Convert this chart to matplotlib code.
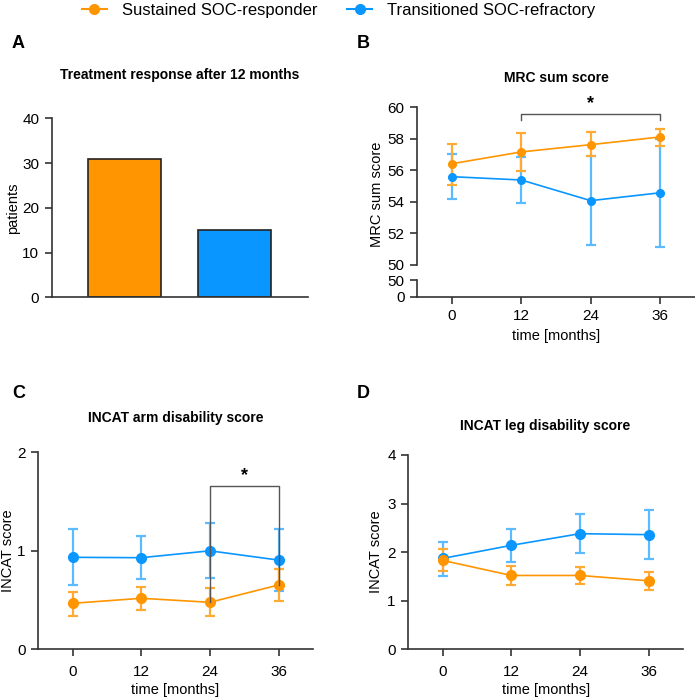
import matplotlib.pyplot as plt
from matplotlib.lines import Line2D

plt.rcParams['font.family'] = ['Liberation Sans', 'DejaVu Sans']

ORANGE = '#FF9500'
BLUE = '#0A96FF'
ORANGE_ERR = '#FFAA33'
BLUE_ERR = '#5CBAFF'
AX_COL = '#333333'

groups = ['Sustained SOC-responder', 'Transitioned SOC-refractory']
months = [0, 12, 24, 36]

# A: patients per group
patients = [31, 15]

# B: MRC sum score (mean, lower err, upper err)
mrc_resp = [56.42, 57.17, 57.63, 58.12]
mrc_resp_lo = [55.10, 55.96, 56.90, 57.56]
mrc_resp_hi = [57.70, 58.39, 58.41, 58.64]
mrc_refr = [55.60, 55.39, 54.08, 54.58]
mrc_refr_lo = [54.20, 53.95, 51.27, 51.16]
mrc_refr_hi = [57.02, 56.83, 56.89, 58.00]

# C: INCAT arm
arm_resp = [0.467, 0.518, 0.477, 0.653]
arm_resp_lo = [0.341, 0.399, 0.339, 0.490]
arm_resp_hi = [0.585, 0.636, 0.620, 0.812]
arm_refr = [0.934, 0.930, 1.000, 0.906]
arm_refr_lo = [0.650, 0.710, 0.720, 0.595]
arm_refr_hi = [1.218, 1.150, 1.280, 1.224]

# D: INCAT leg
leg_resp = [1.83, 1.52, 1.52, 1.41]
leg_resp_lo = [1.61, 1.33, 1.34, 1.23]
leg_resp_hi = [2.06, 1.71, 1.70, 1.59]
leg_refr = [1.87, 2.14, 2.38, 2.36]
leg_refr_lo = [1.51, 1.80, 1.98, 1.86]
leg_refr_hi = [2.21, 2.48, 2.78, 2.87]

fig = plt.figure(figsize=(6.95, 6.99), dpi=100)


def style_axes(ax):
    for s in ['top', 'right']:
        ax.spines[s].set_visible(False)
    for s in ['left', 'bottom']:
        ax.spines[s].set_color(AX_COL)
        ax.spines[s].set_linewidth(1.2)
    ax.tick_params(colors=AX_COL, labelcolor='black', labelsize=11, width=1.2, length=5, pad=4)


def draw_series(ax, y, lo, hi, color, ecolor, ms):
    yerr = [[v - l for v, l in zip(y, lo)], [h - v for v, h in zip(y, hi)]]
    ax.errorbar(months, y, yerr=yerr, color=color, ecolor=ecolor, elinewidth=1.6,
                capsize=3.5, capthick=1.6, marker='o', markersize=ms, lw=1.2, zorder=3)


# ---- A ----
axA = fig.add_axes([0.0744, 0.5747, 0.369, 0.256])
style_axes(axA)
axA.bar([0, 1], patients, width=0.66, color=[ORANGE, BLUE], edgecolor='#222222', linewidth=1.2)
axA.set_xlim(-0.662, 1.668)
axA.set_ylim(0, 40)
axA.set_yticks([0, 10, 20, 30, 40])
axA.set_xticks([])
axA.set_ylabel('patients', fontsize=10.5)
axA.yaxis.set_label_coords(-0.124, 0.5)
axA.set_title('Treatment response after 12 months', fontsize=10, fontweight='bold', pad=28)

# ---- B (broken axis) ----
axB = fig.add_axes([0.6, 0.6209, 0.40, 0.2256])
axB2 = fig.add_axes([0.6, 0.5755, 0.40, 0.0239], sharex=axB)
style_axes(axB)
style_axes(axB2)
axB.spines['bottom'].set_visible(False)
axB.tick_params(axis='x', bottom=False, labelbottom=False)
draw_series(axB, mrc_refr, mrc_refr_lo, mrc_refr_hi, BLUE, BLUE_ERR, 5.5)
draw_series(axB, mrc_resp, mrc_resp_lo, mrc_resp_hi, ORANGE, ORANGE_ERR, 5.5)
axB.set_ylim(50, 60)
axB.set_yticks([50, 52, 54, 56, 58, 60])
axB.set_xlim(-6, 42)
axB.set_title('MRC sum score', fontsize=10, fontweight='bold', pad=18)
axB.set_ylabel('MRC sum score', fontsize=10.5)
axB.yaxis.set_label_coords(-0.12, 0.45)
axB.plot([12, 12, 36, 36], [59.2, 59.56, 59.56, 59.2], color='#555555', lw=1, clip_on=False)
axB.text(24, 59.7, '*', ha='center', va='bottom', fontsize=13, fontweight='bold')
axB2.set_ylim(0, 50)
axB2.set_yticks([0, 50])
axB2.set_xticks(months)
axB2.set_xlim(-6, 42)
axB2.set_xlabel('time [months]', fontsize=10.5, labelpad=4)

# ---- C ----
axC = fig.add_axes([0.0551, 0.0711, 0.395, 0.2818])
style_axes(axC)
draw_series(axC, arm_refr, arm_refr_lo, arm_refr_hi, BLUE, BLUE_ERR, 7)
draw_series(axC, arm_resp, arm_resp_lo, arm_resp_hi, ORANGE, ORANGE_ERR, 7)
axC.set_ylim(0, 2)
axC.set_yticks([0, 1, 2])
axC.set_xlim(-6, 42)
axC.set_xticks(months)
axC.tick_params(axis='x', pad=6)
axC.set_xlabel('time [months]', fontsize=10.5, labelpad=3)
axC.set_ylabel('INCAT score', fontsize=10.5)
axC.yaxis.set_label_coords(-0.084, 0.5)
axC.set_title('INCAT arm disability score', fontsize=10, fontweight='bold', pad=22)
axC.plot([24, 24, 36, 36], [arm_resp[2], 1.66, 1.66, arm_resp[3]], color='#555555', lw=1, zorder=4)
axC.text(30, 1.68, '*', ha='center', va='bottom', fontsize=13, fontweight='bold')

# ---- D ----
axD = fig.add_axes([0.5875, 0.0711, 0.395, 0.278])
style_axes(axD)
draw_series(axD, leg_refr, leg_refr_lo, leg_refr_hi, BLUE, BLUE_ERR, 7)
draw_series(axD, leg_resp, leg_resp_lo, leg_resp_hi, ORANGE, ORANGE_ERR, 7)
axD.set_ylim(0, 4)
axD.set_yticks([0, 1, 2, 3, 4])
axD.set_xlim(-6, 42)
axD.set_xticks(months)
axD.tick_params(axis='x', pad=6)
axD.set_xlabel('time [months]', fontsize=10.5, labelpad=3)
axD.set_ylabel('INCAT score', fontsize=10.5)
axD.yaxis.set_label_coords(-0.092, 0.5)
axD.set_title('INCAT leg disability score', fontsize=10, fontweight='bold', pad=18)

# panel letters
for lbl, x, y in [('A', 12, 43), ('B', 357, 43), ('C', 12, 393), ('D', 357, 393)]:
    fig.text(x / 695, 1 - y / 699, lbl, fontsize=13, fontweight='bold', va='center', ha='left')

# legend
handles = [Line2D([], [], color=ORANGE, marker='o', markersize=7, lw=1.5),
           Line2D([], [], color=BLUE, marker='o', markersize=7, lw=1.5)]
fig.legend(handles, groups, loc='center', bbox_to_anchor=(0.487, 1 - 10 / 699), ncol=2,
           frameon=False, fontsize=12, handlelength=1.5, columnspacing=1.8, handletextpad=0.9)

fig.savefig('out.png', dpi=100)
